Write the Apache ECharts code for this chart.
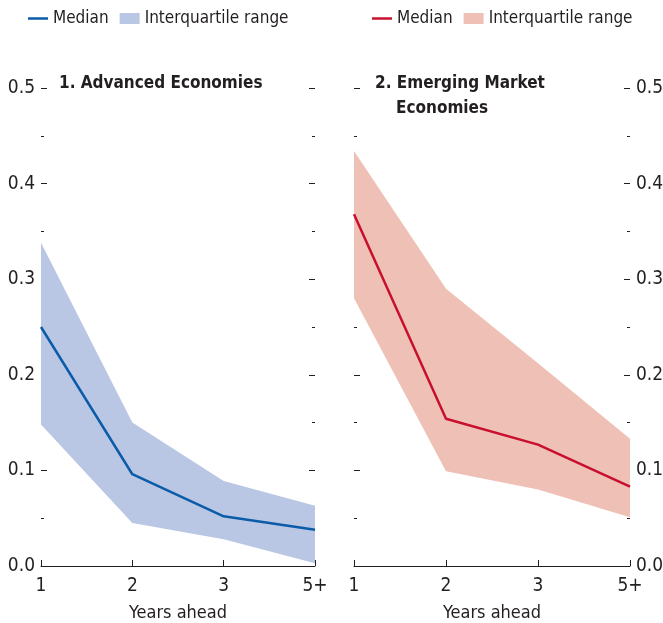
<!DOCTYPE html>
<html>
<head>
<meta charset="utf-8">
<script src="https://cdn.jsdelivr.net/npm/echarts@6/dist/echarts.min.js"></script>
<style>
html,body{margin:0;padding:0;background:#fff;}
#chart{width:663px;height:623px;}
</style>
</head>
<body>
<div id="chart"></div>
<script>
// ---- data ----
var categories = ['1', '2', '3', '5+'];
var yTicks = [0, 0.1, 0.2, 0.3, 0.4, 0.5];

var aeMedian = [0.250, 0.096, 0.052, 0.038];
var aeLower  = [0.148, 0.045, 0.028, 0.003];
var aeUpper  = [0.338, 0.150, 0.089, 0.063];

var emMedian = [0.368, 0.154, 0.127, 0.083];
var emLower  = [0.280, 0.099, 0.080, 0.051];
var emUpper  = [0.434, 0.290, 0.212, 0.133];

var panelTitles = ['1. Advanced Economies', '2. Emerging Market', 'Economies'];
var xName = 'Years ahead';

// ---- styles ----
var FONT = '"DejaVu Sans Condensed","Liberation Sans Narrow",Arial,sans-serif';
var TXT = '#231f20';
var blueLine = '#0b5ca8', blueBand = '#b9c6e4';
var redLine = '#c8102e', redBand = '#efc0b5';

function diff(u, l) { return u.map(function (v, i) { return +(v - l[i]).toFixed(4); }); }

function yAxis(gridIndex, pos, showLabel) {
  return {
    type: 'value', gridIndex: gridIndex, position: pos,
    min: yTicks[0], max: yTicks[yTicks.length - 1], interval: 0.1,
    axisLine: { show: false },
    axisTick: { show: true, inside: true, length: 6, lineStyle: { color: TXT, width: 1 } },
    minorTick: { show: true, splitNumber: 2, length: 3, lineStyle: { color: TXT, width: 1 } },
    splitLine: { show: false },
    axisLabel: {
      show: showLabel, margin: 6, color: TXT, fontFamily: FONT, fontSize: 19,
      formatter: function (v) { return v.toFixed(1); }
    }
  };
}
function xAxis(gridIndex) {
  return {
    type: 'category', gridIndex: gridIndex, data: categories, boundaryGap: false,
    axisLine: { show: true, lineStyle: { color: TXT, width: 1 } },
    axisTick: { show: true, inside: true, length: 6, lineStyle: { color: TXT } },
    axisLabel: { color: TXT, fontFamily: FONT, fontSize: 19, margin: 11 },
    name: xName, nameLocation: 'middle', nameGap: 38,
    nameTextStyle: { color: TXT, fontFamily: FONT, fontSize: 18 },
    splitLine: { show: false }
  };
}
function bandSeries(name, lower, upper, xi, yi, color, stack) {
  return [
    { name: name + '_base', type: 'line', xAxisIndex: xi, yAxisIndex: yi, stack: stack,
      data: lower, symbol: 'none', lineStyle: { opacity: 0 }, silent: true, z: 1 },
    { name: name, type: 'line', xAxisIndex: xi, yAxisIndex: yi, stack: stack,
      data: diff(upper, lower), symbol: 'none', lineStyle: { opacity: 0, width: 0 },
      itemStyle: { color: color },
      areaStyle: { color: color, opacity: 1 }, silent: true, z: 1 }
  ];
}
function legend(left, medName, bandName, lineColor, bandColor) {
  return {
    left: left, top: 10, padding: 0, width: 320, itemGap: 11, itemWidth: 20, itemHeight: 11,
    textStyle: { color: TXT, fontFamily: FONT, fontSize: 17, padding: [0, 0, 0, 0] },
    selectedMode: false,
    formatter: function (n) { return n.indexOf('Median') === 0 ? 'Median' : 'Interquartile range'; },
    data: [
      { name: medName, icon: 'path://M0,0L20,0L20,2.5L0,2.5Z',
        itemStyle: { color: lineColor, borderWidth: 0 }, lineStyle: { width: 0, opacity: 0 } },
      { name: bandName, icon: 'rect', itemStyle: { color: bandColor, borderWidth: 0 } }
    ]
  };
}

var chart = echarts.init(document.getElementById('chart'), null, { renderer: 'canvas' });
chart.setOption({
  backgroundColor: '#fff',
  animation: false,
  title: [
    { text: panelTitles[0], left: 54, top: 70, textStyle: { color: TXT, fontFamily: FONT, fontSize: 17, fontWeight: 'bold' } },
    { text: panelTitles[1], left: 370, top: 70, textStyle: { color: TXT, fontFamily: FONT, fontSize: 17, fontWeight: 'bold' } },
    { text: panelTitles[2], left: 391, top: 95, textStyle: { color: TXT, fontFamily: FONT, fontSize: 17, fontWeight: 'bold' } }
  ],
  legend: [
    legend(28, 'Median', 'Interquartile range', blueLine, blueBand),
    legend(372, 'Median EM', 'Interquartile range EM', redLine, redBand)
  ],
  grid: [
    { left: 41, top: 88, width: 274, height: 478, outerBoundsMode: 'none', containLabel: false },
    { left: 354, top: 88, width: 276, height: 478, outerBoundsMode: 'none', containLabel: false }
  ],
  xAxis: [xAxis(0), xAxis(1)],
  yAxis: [yAxis(0, 'left', true), yAxis(0, 'right', false), yAxis(1, 'left', false), yAxis(1, 'right', true)],
  series: [].concat(
    bandSeries('Interquartile range', aeLower, aeUpper, 0, 0, blueBand, 'ae'),
    [{ name: 'Median', type: 'line', xAxisIndex: 0, yAxisIndex: 0, data: aeMedian, symbol: 'none',
       itemStyle: { color: blueLine }, lineStyle: { color: blueLine, width: 2.5 }, z: 3 }],
    bandSeries('Interquartile range EM', emLower, emUpper, 1, 2, redBand, 'em'),
    [{ name: 'Median EM', type: 'line', xAxisIndex: 1, yAxisIndex: 2, data: emMedian, symbol: 'none',
       itemStyle: { color: redLine }, lineStyle: { color: redLine, width: 2.5 }, z: 3 }]
  )
});
</script>
</body>
</html>
